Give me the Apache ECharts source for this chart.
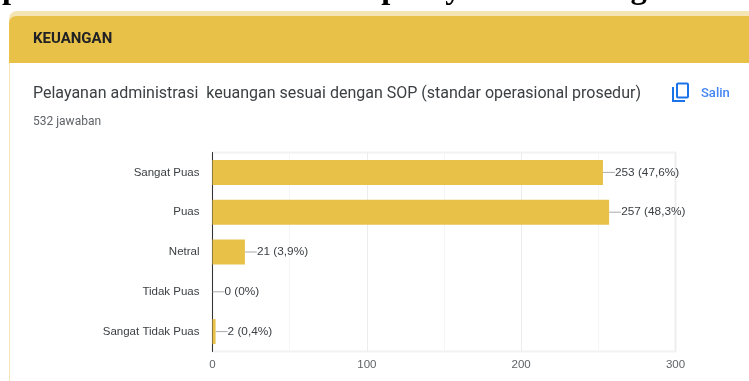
<!DOCTYPE html>
<html><head><meta charset="utf-8">
<style>html,body{margin:0;padding:0;background:#fff}#c{width:749px;height:381px}</style>
<script src="https://cdn.jsdelivr.net/npm/echarts@6/dist/echarts.min.js"></script>
</head><body><div id="c"></div>
<script>
const categories = ['Sangat Puas','Puas','Netral','Tidak Puas','Sangat Tidak Puas'];
const counts = [253,257,21,0,2];
const percents = ['47,6%','48,3%','3,9%','0%','0,4%'];
const xTicks = [0,100,200,300];
const pageTitle = 'puasan Mahasiswa terhadap Layanan Keuangan FTI UII';
const sectionTitle = 'KEUANGAN';
const question = 'Pelayanan administrasi  keuangan sesuai dengan SOP (standar operasional prosedur)';
const answerCount = '532 jawaban';
const copyLabel = 'Salin';

const chart = echarts.init(document.getElementById('c'), null, {renderer:'canvas'});
chart.setOption({
  animation:false,
  backgroundColor:'#fff',
  grid:{left:212.5,top:152.5,width:463,height:199,show:true,borderColor:'#f2f2f2',borderWidth:2,backgroundColor:'transparent',containLabel:false},
  xAxis:{type:'value',min:0,max:300,interval:100,
    axisLine:{show:false},axisTick:{show:false},
    axisLabel:{color:'#5f6368',fontFamily:'Liberation Sans',fontSize:11.5,margin:7,customValues:xTicks},
    splitLine:{show:true,lineStyle:{color:'#ececec',width:1}},
    minorTick:{show:false,splitNumber:2},
    minorSplitLine:{show:true,lineStyle:{color:'#f5f5f5',width:1}}},
  yAxis:{type:'category',inverse:true,data:categories,
    axisLine:{show:true,onZero:false,lineStyle:{color:'#333',width:1}},axisTick:{show:false},
    axisLabel:{color:'#3c4043',fontFamily:'Liberation Sans',fontSize:11.5,margin:13},splitLine:{show:false}},
  series:[{type:'bar',data:counts,barWidth:25,itemStyle:{color:'#e8c149'},
    label:{show:true,position:'right',distance:0,color:'#3c4043',fontFamily:'Liberation Sans',fontSize:11.8,
      formatter:p=>counts[p.dataIndex]+' ('+percents[p.dataIndex]+')'},
    labelLayout:{dx:12},
    labelLine:{show:true,lineStyle:{color:'#aaa',width:1}},
    silent:true}],
  graphic:[
    {type:'rect',silent:true,z:-1,shape:{x:9,y:11,width:760,height:400,r:[8,0,0,0]},style:{fill:'#f6e5b4'}},
    {type:'rect',silent:true,z:-1,shape:{x:10,y:16,width:760,height:400,r:[7,0,0,0]},style:{fill:'#fff'}},
    {type:'rect',silent:true,z:-1,shape:{x:9,y:16,width:760,height:47,r:[7,0,0,0]},style:{fill:'#e8c149'}},
    {type:'text',silent:true,left:2,top:-27,style:{text:pageTitle,fill:'#000',font:'bold 32.5px "Liberation Serif"'}},
    {type:'text',silent:true,left:33,top:32,style:{text:sectionTitle,fill:'#202124',font:'bold 15px Roboto'}},
    {type:'text',silent:true,left:33,top:86,style:{text:question,fill:'#3c4043',font:'16px Roboto'}},
    {type:'text',silent:true,left:33,top:116,style:{text:answerCount,fill:'#5f6368',font:'12px Roboto'}},
    {type:'rect',silent:true,shape:{x:677,y:83.5,width:11,height:14,r:1},style:{fill:'transparent',stroke:'#1a73e8',lineWidth:2}},
    {type:'polyline',silent:true,shape:{points:[[673,87],[673,101],[685,101]]},style:{fill:'transparent',stroke:'#1a73e8',lineWidth:2}},
    {type:'text',silent:true,left:701,top:87,style:{text:copyLabel,fill:'#4285f4',font:'500 13px Roboto'}}
  ]
});
</script></body></html>
